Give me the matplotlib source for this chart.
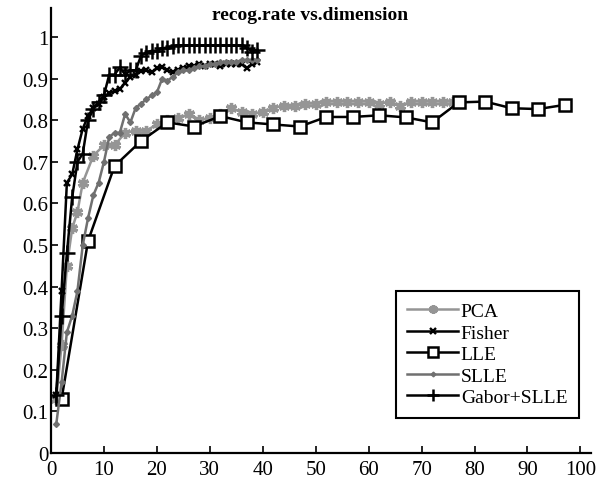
import matplotlib
matplotlib.use("Agg")
import matplotlib.pyplot as plt

# ---------------------------------------------------------------------------
# Data (recognition rate vs. feature dimension)
# ---------------------------------------------------------------------------

pca_dim = [1, 2, 3, 4, 5, 6, 8, 10, 12, 14, 16, 18, 20, 22, 24, 26, 28, 30,
           32, 34, 36, 38, 40, 42, 44, 46, 48, 50, 52, 54, 56, 58, 60, 62,
           64, 66, 68, 70, 72, 74, 76]
pca_rate = [0.13, 0.26, 0.45, 0.54, 0.58, 0.65, 0.715, 0.74, 0.74, 0.77,
            0.775, 0.775, 0.79, 0.80, 0.805, 0.815, 0.80, 0.805, 0.815, 0.83,
            0.82, 0.815, 0.82, 0.83, 0.835, 0.835, 0.84, 0.84, 0.845, 0.845,
            0.845, 0.845, 0.845, 0.84, 0.845, 0.835, 0.845, 0.845, 0.845,
            0.845, 0.845]

fisher_dim = list(range(1, 40))
fisher_rate = [0.14, 0.39, 0.65, 0.67, 0.73, 0.78, 0.81, 0.83, 0.84, 0.855,
               0.865, 0.87, 0.875, 0.89, 0.905, 0.91, 0.918, 0.92, 0.915,
               0.925, 0.927, 0.92, 0.915, 0.92, 0.925, 0.93, 0.93, 0.935,
               0.93, 0.935, 0.935, 0.93, 0.935, 0.935, 0.935, 0.935, 0.925,
               0.935, 0.94]

lle_dim = [2, 7, 12, 17, 22, 27, 32, 37, 42, 47, 52, 57, 62, 67, 72, 77, 82,
           87, 92, 97]
lle_rate = [0.13, 0.51, 0.69, 0.75, 0.795, 0.785, 0.81, 0.795, 0.79, 0.785,
            0.808, 0.808, 0.812, 0.807, 0.795, 0.843, 0.845, 0.829, 0.827,
            0.837]

slle_dim = list(range(1, 40))
slle_rate = [0.07, 0.17, 0.29, 0.33, 0.39, 0.50, 0.565, 0.62, 0.65, 0.70,
             0.76, 0.77, 0.77, 0.815, 0.795, 0.83, 0.84, 0.85, 0.86, 0.867,
             0.90, 0.895, 0.905, 0.915, 0.92, 0.92, 0.925, 0.93, 0.93,
             0.935, 0.935, 0.94, 0.94, 0.94, 0.94, 0.945, 0.945, 0.945,
             0.945]

gabor_dim = list(range(1, 40))
gabor_rate = [0.14, 0.33, 0.48, 0.615, 0.70, 0.72, 0.80, 0.827, 0.845, 0.86,
              0.91, 0.91, 0.927, 0.91, 0.92, 0.92, 0.955, 0.963, 0.967,
              0.967, 0.973, 0.975, 0.978, 0.98, 0.98, 0.98, 0.98, 0.98, 0.98,
              0.98, 0.98, 0.98, 0.98, 0.98, 0.98, 0.98, 0.975, 0.965, 0.97]

x_ticks = list(range(0, 101, 10))
y_ticks = [0, 0.1, 0.2, 0.3, 0.4, 0.5, 0.6, 0.7, 0.8, 0.9, 1]
y_labels = ["0", "0.1", "0.2", "0.3", "0.4", "0.5", "0.6", "0.7", "0.8",
            "0.9", "1"]

# ---------------------------------------------------------------------------
# Plot
# ---------------------------------------------------------------------------

plt.rcParams["font.family"] = ["Liberation Serif", "DejaVu Serif"]

fig = plt.figure(figsize=(6.05, 4.81), dpi=100)
ax = fig.add_axes([51 / 605, 27 / 481, 540 / 605, 445 / 481])

ax.plot(pca_dim, pca_rate, color="#959595", lw=1.8, marker=(6, 2, 0),
        ms=8, mew=2.4, label="PCA")
ax.plot(fisher_dim, fisher_rate, color="black", lw=1.8, marker="x",
        ms=5, mew=1.7, label="Fisher")
ax.plot(lle_dim, lle_rate, color="black", lw=1.8, marker="s", ms=9,
        mfc="white", mew=1.8, label="LLE")
ax.plot(slle_dim, slle_rate, color="#707070", lw=1.8, marker="D", ms=3,
        label="SLLE")
ax.plot(gabor_dim, gabor_rate, color="black", lw=1.8, marker="+", ms=11,
        mew=1.8, label="Gabor+SLLE")

ax.set_xlim(0, 102)
ax.set_ylim(0, 1.07)
ax.set_xticks(x_ticks)
ax.set_yticks(y_ticks)
ax.set_yticklabels(y_labels)
ax.tick_params(direction="in", length=5, width=1.2, labelsize=15)
ax.tick_params(axis="y", pad=2)
ax.tick_params(axis="x", pad=5)

for side in ("top", "right"):
    ax.spines[side].set_visible(False)
for side in ("left", "bottom"):
    ax.spines[side].set_linewidth(1.6)

ax.text(0.48, 0.985, "recog.rate vs.dimension", transform=ax.transAxes,
        ha="center", va="center", fontsize=14, fontweight="bold")

leg = ax.legend(loc="lower right", bbox_to_anchor=(0.978, 0.079),
                borderaxespad=0, fontsize=14, fancybox=False,
                framealpha=1, edgecolor="black", handlelength=2.6,
                handletextpad=0.15, labelspacing=0.2, borderpad=0.6,
                markerscale=0.8)
leg.get_frame().set_linewidth(1.5)

fig.savefig("out.png", dpi=100)
